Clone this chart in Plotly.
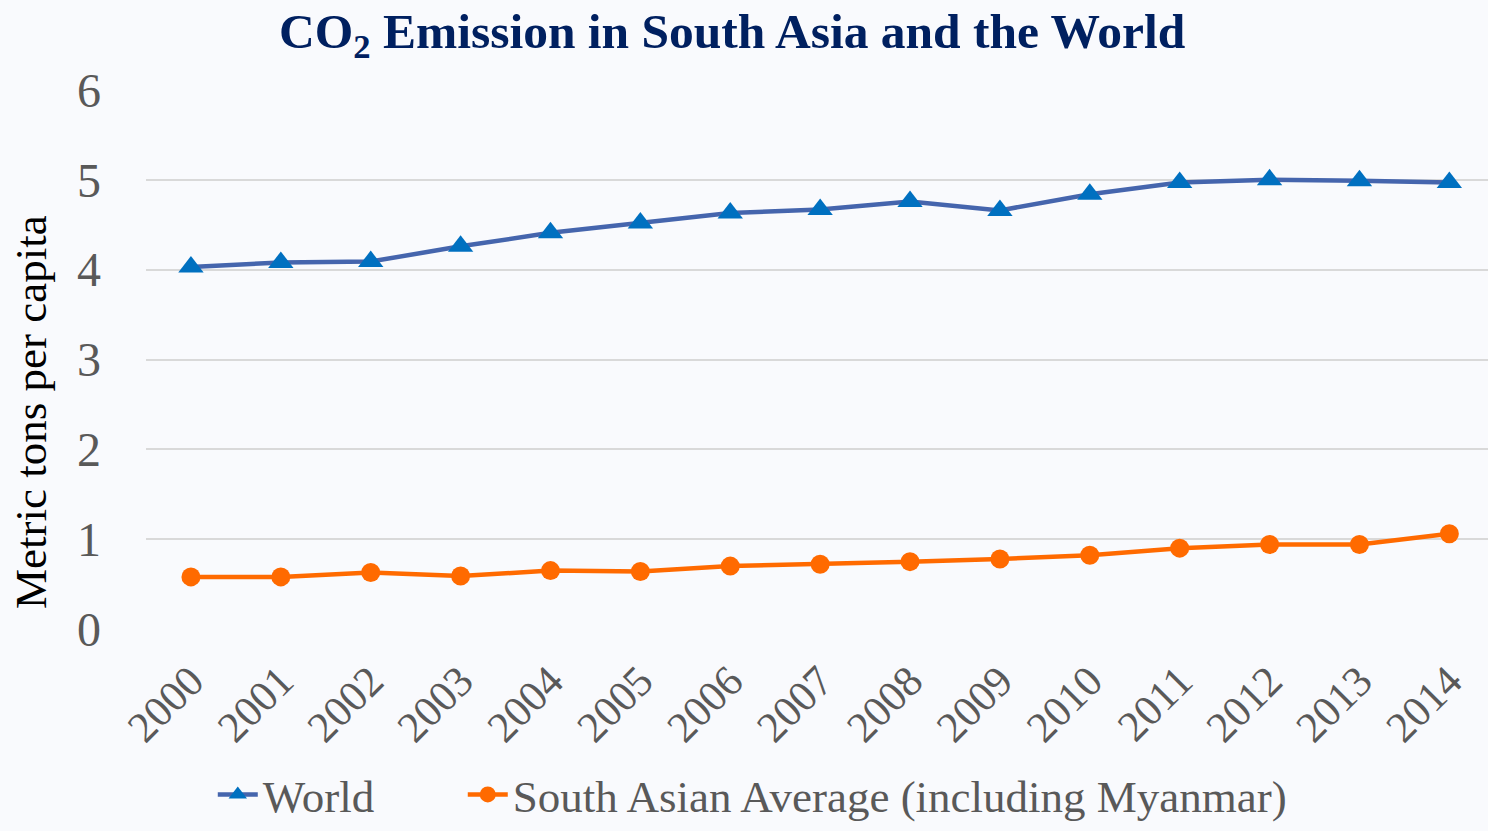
import plotly.graph_objects as go

years = [str(y) for y in range(2000, 2015)]
world = [4.03, 4.08, 4.09, 4.26, 4.41, 4.52, 4.63, 4.67, 4.76, 4.66, 4.84, 4.97, 5.00, 4.99, 4.97]
south_asia = [0.58, 0.58, 0.63, 0.59, 0.65, 0.64, 0.70, 0.72, 0.75, 0.78, 0.82, 0.90, 0.94, 0.94, 1.06]
y_ticks = [0, 1, 2, 3, 4, 5, 6]

serif = "Liberation Serif, Times New Roman, serif"
grey = "#595959"

fig = go.Figure()
fig.add_trace(go.Scatter(
    x=years, y=world, name="World", mode="lines+markers",
    line=dict(color="#4565AD", width=4.5),
    marker=dict(symbol="triangle-up", size=22, color="#0070C0"),
    legend="legend",
))
fig.add_trace(go.Scatter(
    x=years, y=south_asia, name="South Asian Average (including Myanmar)",
    mode="lines+markers",
    line=dict(color="#FF6A00", width=4.5),
    marker=dict(symbol="circle", size=19, color="#FF6A00"),
    legend="legend2",
))

legend_style = dict(
    orientation="h", xref="container", xanchor="left",
    yref="container", y=0.087, yanchor="top",
    font=dict(family=serif, size=45, color=grey),
    itemwidth=40, bgcolor="rgba(0,0,0,0)",
)

fig.update_layout(
    width=1488, height=831,
    paper_bgcolor="#f9fafd", plot_bgcolor="rgba(0,0,0,0)",
    margin=dict(l=146, r=0, t=90, b=202),
    title=dict(
        text="CO<sub>2</sub> Emission in South Asia and the World",
        font=dict(family=serif, size=49.5, color="#002060", weight="bold"),
        x=0.492, xanchor="center", y=0.963, yanchor="middle",
    ),
    xaxis=dict(
        type="category", range=[-0.5, 14.43],
        tickangle=-45, tickfont=dict(family=serif, size=43, color=grey),
        showgrid=False, showline=False, ticks="", ticklabelstandoff=17,
    ),
    yaxis=dict(
        range=[0, 6], tickvals=y_ticks,
        tickfont=dict(family=serif, size=48, color=grey),
        gridcolor="#d9d9d9", gridwidth=1.5, zeroline=False, showline=False,
        ticklabelstandoff=44,
    ),
    annotations=[dict(
        text="Metric tons per capita", textangle=-90,
        xref="paper", yref="paper", x=-0.0857, y=0.4026,
        xanchor="center", yanchor="middle", showarrow=False,
        font=dict(family=serif, size=45, color="#000000"),
    )],
    legend=dict(legend_style, x=0.143),
    legend2=dict(legend_style, x=0.311),
    showlegend=True,
)

fig.write_html("out.html")
